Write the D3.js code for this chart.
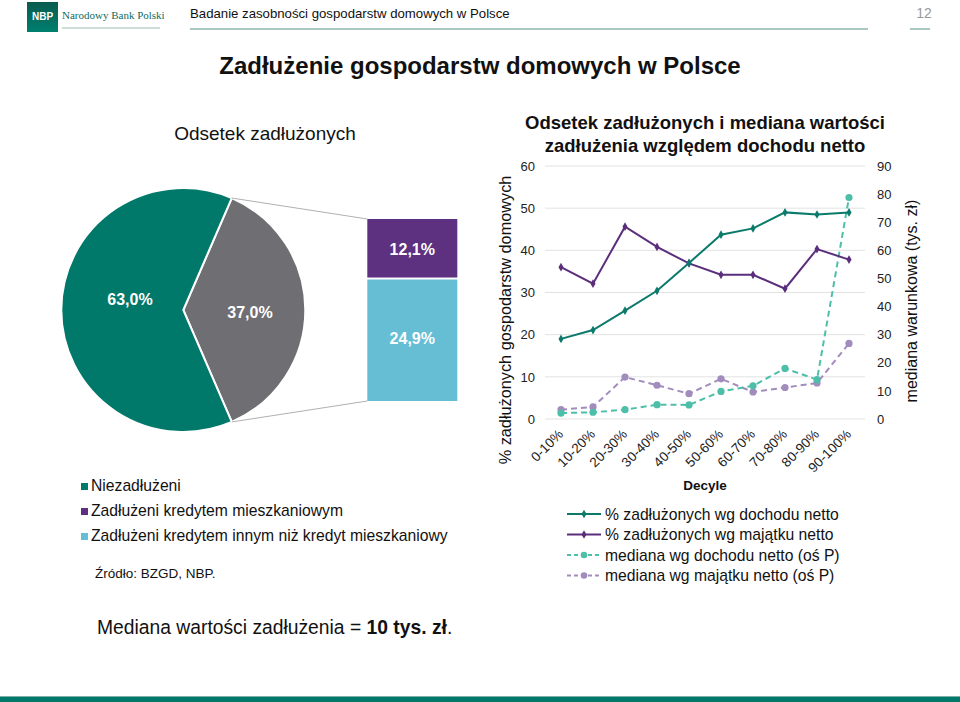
<!DOCTYPE html>
<html><head><meta charset="utf-8">
<script src="https://cdn.jsdelivr.net/npm/d3@7"></script>
<style>body{margin:0;background:#fff;}svg{display:block;font-family:"Liberation Sans",Arial,sans-serif;}</style>
</head><body>
<svg id="c" width="960" height="702"></svg>
<script>
const deciles = ["0-10%","10-20%","20-30%","30-40%","40-50%","50-60%","60-70%","70-80%","80-90%","90-100%"];
const shareByIncome = [19.0,21.1,25.7,30.4,37.0,43.7,45.2,49.0,48.5,49.0];
const shareByWealth = [36.0,32.1,45.6,40.8,36.9,34.2,34.2,30.9,40.3,37.8];
const medianByIncome = [2.1,2.4,3.3,5.1,5.0,9.8,11.8,18.0,14.0,78.8];
const medianByWealth = [3.3,4.3,14.9,12.0,9.0,14.3,9.6,11.2,12.8,26.9];
const leftTicks = [0,10,20,30,40,50,60];
const rightTicks = [0,10,20,30,40,50,60,70,80,90];
const pieLabels = ["Zadłużeni","Niezadłużeni"];
const pieValues = [37.0,63.0];
const barLabels = ["Zadłużeni kredytem mieszkaniowym","Zadłużeni kredytem innym niż kredyt mieszkaniowy"];
const barValues = [12.1,24.9];
const legendLeft = ["Niezadłużeni","Zadłużeni kredytem mieszkaniowym","Zadłużeni kredytem innym niż kredyt mieszkaniowy"];
const legendRight = ["% zadłużonych wg dochodu netto","% zadłużonych wg majątku netto","mediana wg dochodu netto (oś P)","mediana wg majątku netto (oś P)"];

const svg = d3.select("#c");
const C = {green:"#00786a", grey:"#6f6e73", purple:"#5d3180", lblue:"#66bed4",
  lGreen:"#0b7a6b", lPurple:"#5b2e7c", lTeal:"#4dbfa9", lLav:"#a28cbe"};

// ---------- header ----------
const lg = svg.append("defs").append("linearGradient").attr("id","nbpg").attr("x1",0).attr("y1",0).attr("x2",0).attr("y2",1);
lg.append("stop").attr("offset","0").attr("stop-color","#0b5a4e");
lg.append("stop").attr("offset","1").attr("stop-color","#00806f");
svg.append("rect").attr("x",27).attr("y",2).attr("width",31).attr("height",30).attr("fill","url(#nbpg)");
svg.append("text").attr("x",42.5).attr("y",20).attr("text-anchor","middle").attr("fill","#fff").attr("font-size",10).attr("font-weight","bold").text("NBP");
svg.append("text").attr("x",62).attr("y",19).attr("fill","#0f6b5e").attr("font-size",11).attr("font-family","'Liberation Serif','DejaVu Serif',serif").text("Narodowy Bank Polski");
svg.append("line").attr("x1",62).attr("x2",160).attr("y1",28).attr("y2",28).attr("stroke","#9ab9b2").attr("stroke-width",1);
svg.append("text").attr("x",190).attr("y",18).attr("fill","#111").attr("font-size",13.2).text("Badanie zasobności gospodarstw domowych w Polsce");
svg.append("line").attr("x1",190).attr("x2",868).attr("y1",29).attr("y2",29).attr("stroke","#8fb5ad").attr("stroke-width",1.5);
svg.append("text").attr("x",924).attr("y",18).attr("text-anchor","middle").attr("fill","#999").attr("font-size",14).text("12");
svg.append("line").attr("x1",910).attr("x2",930).attr("y1",29).attr("y2",29).attr("stroke","#8fb5ad").attr("stroke-width",1.5);

// main title
svg.append("text").attr("x",480).attr("y",74).attr("text-anchor","middle").attr("font-size",24).attr("font-weight","bold").attr("fill","#111").text("Zadłużenie gospodarstw domowych w Polsce");

// bottom band
svg.append("rect").attr("x",0).attr("y",696).attr("width",960).attr("height",1).attr("fill","#7fb0a8");
svg.append("rect").attr("x",0).attr("y",697).attr("width",960).attr("height",5).attr("fill","#00786a");

// ---------- left: pie ----------
svg.append("text").attr("x",265).attr("y",140).attr("text-anchor","middle").attr("font-size",19).attr("fill","#111").text("Odsetek zadłużonych");
const cx=183.3, cy=310, r=122;
const half = pieValues[0]/100*Math.PI;
const pie = d3.pie().sort(null).startAngle(Math.PI/2-half).endAngle(Math.PI/2-half+2*Math.PI);
const arcs = pie(pieValues);
const arc = d3.arc().innerRadius(0).outerRadius(r);
const pg = svg.append("g").attr("transform",`translate(${cx},${cy})`);
pg.selectAll("path").data(arcs).join("path").attr("d",arc)
  .attr("fill",(d,i)=>i===0?C.grey:C.green).attr("stroke","#fff").attr("stroke-width",2);
const fmt = v => d3.format(".1f")(v).replace(".",",")+"%";
const labelPos = [[250-cx,318-cy],[130-cx,305-cy]];
pg.selectAll("text.pl").data(arcs).join("text").attr("class","pl")
  .attr("x",(d,i)=>labelPos[i][0]).attr("y",(d,i)=>labelPos[i][1]).attr("text-anchor","middle")
  .attr("fill","#fff").attr("font-size",16).attr("font-weight","bold").text(d=>fmt(d.value));

// stacked bar
const barX=367.3, barW=90;
const yb = d3.scaleLinear().domain([0,pieValues[0]]).range([401,219]);
const stack = [];
let acc = pieValues[0];
barValues.forEach((v,i)=>{ stack.push({v:v,top:acc,bot:acc-v,i:i}); acc-=v; });
svg.selectAll("rect.sb").data(stack).join("rect").attr("class","sb")
  .attr("x",barX).attr("width",barW)
  .attr("y",d=>yb(d.top)+(d.i>0?1:0)).attr("height",d=>yb(d.bot)-yb(d.top)-1)
  .attr("fill",d=>d.i===0?C.purple:C.lblue);
svg.selectAll("text.sbl").data(stack).join("text").attr("class","sbl")
  .attr("x",barX+barW/2).attr("y",d=>(yb(d.top)+yb(d.bot))/2+6+(d.i===0?0:-2)).attr("text-anchor","middle")
  .attr("fill","#fff").attr("font-size",16).attr("font-weight","bold").text(d=>fmt(d.v));
// connectors
const a0 = arcs[0];
const pt = a => [cx+r*Math.sin(a), cy-r*Math.cos(a)];
const p1 = pt(a0.startAngle), p2 = pt(a0.endAngle);
svg.append("line").attr("x1",p1[0]).attr("y1",p1[1]).attr("x2",barX).attr("y2",yb(pieValues[0])).attr("stroke","#b0b0b0").attr("stroke-width",1);
svg.append("line").attr("x1",p2[0]).attr("y1",p2[1]).attr("x2",barX).attr("y2",yb(0)).attr("stroke","#b0b0b0").attr("stroke-width",1);

// left legend
const llc = [C.green,C.purple,C.lblue];
legendLeft.forEach((t,i)=>{
  const y = 491+i*25;
  svg.append("rect").attr("x",81).attr("y",y-8).attr("width",7).attr("height",7).attr("fill",llc[i]);
  svg.append("text").attr("x",91).attr("y",y).attr("font-size",15.7).attr("fill","#111").text(t);
});
svg.append("text").attr("x",95).attr("y",578).attr("font-size",13.5).attr("fill","#111").text("Źródło: BZGD, NBP.");
const med = svg.append("text").attr("x",97).attr("y",634).attr("font-size",19.3).attr("fill","#111");
med.append("tspan").text("Mediana wartości zadłużenia = ");
med.append("tspan").attr("font-weight","bold").text("10 tys. zł");
med.append("tspan").text(".");

// ---------- right: line chart ----------
const x0=545, x1=865, yTop=166, yBot=419;
const x = d3.scaleBand().domain(deciles).range([x0,x1]);
const yL = d3.scaleLinear().domain([0,60]).range([yBot,yTop]);
const yR = d3.scaleLinear().domain([0,90]).range([yBot,yTop]);

svg.append("text").attr("x",705).attr("y",129).attr("text-anchor","middle").attr("font-size",18.5).attr("font-weight","bold").attr("fill","#111").text("Odsetek zadłużonych i mediana wartości");
svg.append("text").attr("x",705).attr("y",152).attr("text-anchor","middle").attr("font-size",18.5).attr("font-weight","bold").attr("fill","#111").text("zadłużenia względem dochodu netto");

// grid
svg.append("g").selectAll("line").data(leftTicks).join("line")
  .attr("x1",x0).attr("x2",x1).attr("y1",d=>yL(d)).attr("y2",d=>yL(d)).attr("stroke","#e2e2e2").attr("stroke-width",1);

const axL = svg.append("g").attr("transform",`translate(${x0-10},0)`).call(d3.axisLeft(yL).tickValues(leftTicks).tickSize(0).tickPadding(0));
axL.select(".domain").remove();
axL.selectAll("text").attr("font-size",13).attr("fill","#222").attr("font-family","'Liberation Sans',Arial,sans-serif");
const axR = svg.append("g").attr("transform",`translate(${x1+12},0)`).call(d3.axisRight(yR).tickValues(rightTicks).tickSize(0).tickPadding(0));
axR.select(".domain").remove();
axR.selectAll("text").attr("font-size",13).attr("fill","#222").attr("font-family","'Liberation Sans',Arial,sans-serif");

const axB = svg.append("g").attr("transform",`translate(0,${yBot})`).call(d3.axisBottom(x).tickSize(0).tickPadding(0));
axB.select(".domain").remove();
axB.selectAll("text").attr("font-size",13.5).attr("fill","#222").attr("font-family","'Liberation Sans',Arial,sans-serif")
  .attr("text-anchor","end").attr("dy",0).attr("transform","translate(3,16) rotate(-45)");

svg.append("text").attr("x",705).attr("y",490).attr("text-anchor","middle").attr("font-size",13.5).attr("font-weight","bold").attr("fill","#111").text("Decyle");

svg.append("text").attr("transform","translate(511,320) rotate(-90)").attr("text-anchor","middle").attr("font-size",16.3).attr("fill","#111").text("% zadłużonych gospodarstw domowych");
svg.append("text").attr("transform","translate(917,301) rotate(-90)").attr("text-anchor","middle").attr("font-size",16).attr("fill","#111").text("mediana warunkowa (tys. zł)");

const cxp = d => x(d)+x.bandwidth()/2;
const series = [
  {v:medianByWealth, y:yR, c:C.lLav, dash:"6,4", m:"circle"},
  {v:medianByIncome, y:yR, c:C.lTeal, dash:"6,4", m:"circle"},
  {v:shareByWealth, y:yL, c:C.lPurple, dash:null, m:"diamond"},
  {v:shareByIncome, y:yL, c:C.lGreen, dash:null, m:"diamond"}
];
const diamond = d3.symbol().type(d3.symbolDiamond).size(22);
series.forEach(s=>{
  const pts = deciles.map((d,i)=>[cxp(d), s.y(s.v[i])]);
  svg.append("path").attr("d",d3.line()(pts)).attr("fill","none").attr("stroke",s.c).attr("stroke-width",2)
    .attr("stroke-dasharray",s.dash);
  const g = svg.append("g");
  if(s.m==="circle"){
    g.selectAll("circle").data(pts).join("circle").attr("cx",p=>p[0]).attr("cy",p=>p[1]).attr("r",3.6).attr("fill",s.c);
  } else {
    g.selectAll("path").data(pts).join("path").attr("d",diamond).attr("transform",p=>`translate(${p[0]},${p[1]})`).attr("fill",s.c);
  }
});

// right legend
const legS = [series[3],series[2],series[1],series[0]];
legendRight.forEach((t,i)=>{
  const y = 514+i*20.5;
  const s = legS[i];
  svg.append("line").attr("x1",567).attr("x2",601).attr("y1",y).attr("y2",y).attr("stroke",s.c).attr("stroke-width",2).attr("stroke-dasharray",s.dash?"4,3":null);
  if(s.m==="circle") svg.append("circle").attr("cx",584).attr("cy",y).attr("r",3.3).attr("fill",s.c);
  else svg.append("path").attr("d",diamond).attr("transform",`translate(584,${y})`).attr("fill",s.c);
  svg.append("text").attr("x",605).attr("y",y+5.5).attr("font-size",15.7).attr("fill","#111").text(t);
});
</script>
</body></html>
